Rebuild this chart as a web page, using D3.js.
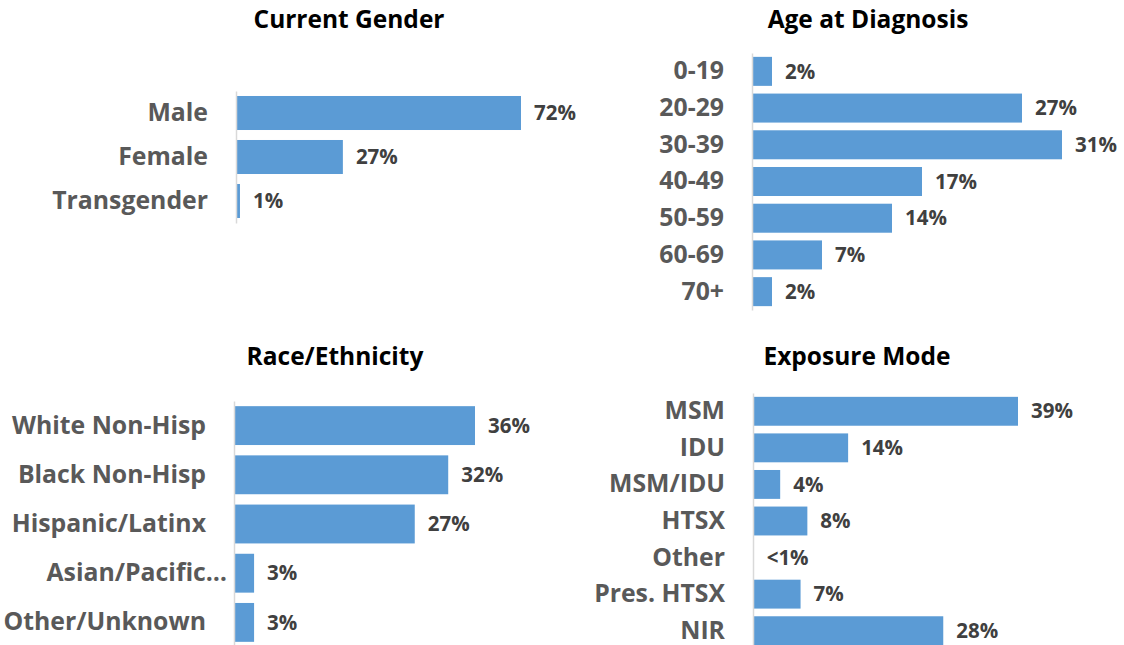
<!DOCTYPE html>
<html>
<head>
<meta charset="utf-8">
<script src="https://cdn.jsdelivr.net/npm/d3@7"></script>
<style>
  body { margin: 0; background: #fff; }
  svg { display: block; font-family: "Open Sans", Lato, sans-serif; }
</style>
</head>
<body>
<div id="chart"></div>
<script>
const w = 1124;
const h = 645;

// data
const genderCats = ["Male", "Female", "Transgender"];
const genderVals = [72, 27, 1];
const genderLabels = ["72%", "27%", "1%"];

const ageCats = ["0-19", "20-29", "30-39", "40-49", "50-59", "60-69", "70+"];
const ageVals = [2, 27, 31, 17, 14, 7, 2];
const ageLabels = ["2%", "27%", "31%", "17%", "14%", "7%", "2%"];

const raceCats = ["White Non-Hisp", "Black Non-Hisp", "Hispanic/Latinx", "Asian/Pacific…", "Other/Unknown"];
const raceVals = [36, 32, 27, 3, 3];
const raceLabels = ["36%", "32%", "27%", "3%", "3%"];

const expoCats = ["MSM", "IDU", "MSM/IDU", "HTSX", "Other", "Pres. HTSX", "NIR"];
const expoVals = [39, 14, 4, 8, 0.1, 7, 28];
const expoLabels = ["39%", "14%", "4%", "8%", "<1%", "7%", "28%"];

const svg = d3.select("#chart")
  .append("svg")
    .attr("width", w)
    .attr("height", h);

function panel(title, cats, vals, labels, o) {
  const g = svg.append("g");

  const y = d3.scaleBand()
    .domain(cats)
    .range([o.top, o.bottom])
    .paddingInner(o.pad)
    .paddingOuter(o.pad / 2);

  const x = d3.scaleLinear()
    .domain([0, d3.max(vals)])
    .range([o.left, o.right]);

  g.append("text")
    .attr("x", o.titleX)
    .attr("y", o.titleY)
    .attr("text-anchor", "middle")
    .attr("font-size", 24.5)
    .attr("font-weight", "bold")
    .attr("fill", "#000")
    .text(title);

  g.selectAll("rect")
    .data(cats)
    .enter()
    .append("rect")
      .attr("x", x(0))
      .attr("y", d => y(d))
      .attr("width", (d, i) => x(vals[i]) - x(0))
      .attr("height", y.bandwidth())
      .attr("fill", "#5B9BD5");

  const ax = g.append("g")
    .attr("transform", "translate(" + x(0) + ",0)")
    .call(d3.axisLeft(y).tickSize(0).tickSizeOuter(0).tickPadding(28));
  ax.select(".domain").attr("stroke", "#D9D9D9").attr("stroke-width", 1.5);
  ax.selectAll("text")
    .attr("font-family", "'Open Sans', Lato, sans-serif")
    .attr("font-size", 24.8)
    .attr("font-weight", "bold")
    .attr("fill", "#595959")
    .attr("dx", d => d.endsWith("…") ? 21 : 0);

  g.selectAll(".val")
    .data(cats)
    .enter()
    .append("text")
      .attr("class", "val")
      .attr("x", (d, i) => x(vals[i]) + 13)
      .attr("y", d => y(d) + y.bandwidth() / 2)
      .attr("dy", "0.35em")
      .attr("font-size", 20.5)
      .attr("font-weight", "bold")
      .attr("fill", "#404040")
      .text((d, i) => labels[i]);
}

panel("Current Gender", genderCats, genderVals, genderLabels,
  {top: 91, bottom: 223, pad: 0.227, left: 236, right: 521, titleX: 349, titleY: 28});
panel("Age at Diagnosis", ageCats, ageVals, ageLabels,
  {top: 53, bottom: 310, pad: 0.21, left: 752, right: 1062, titleX: 868, titleY: 28});
panel("Race/Ethnicity", raceCats, raceVals, raceLabels,
  {top: 401, bottom: 647, pad: 0.21, left: 234, right: 475, titleX: 335, titleY: 365});
panel("Exposure Mode", expoCats, expoVals, expoLabels,
  {top: 393, bottom: 649, pad: 0.21, left: 753, right: 1018, titleX: 857, titleY: 365});
</script>
</body>
</html>
